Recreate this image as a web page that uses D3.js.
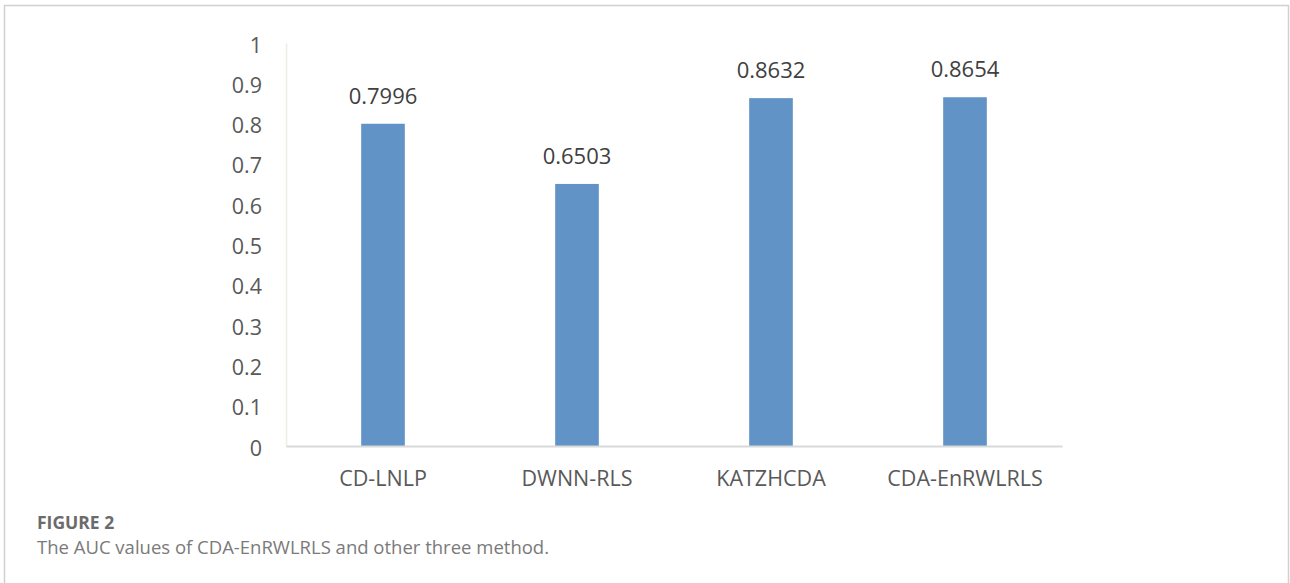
<!DOCTYPE html>
<html><head><meta charset="utf-8">
<script src="https://cdn.jsdelivr.net/npm/d3@7"></script>
<style>html,body{margin:0;padding:0;background:#fff;}svg{display:block;}</style>
</head><body>
<script>
const categories = ["CD-LNLP", "DWNN-RLS", "KATZHCDA", "CDA-EnRWLRLS"];
const aucValues = [0.7996, 0.6503, 0.8632, 0.8654];
const valueLabels = ["0.7996", "0.6503", "0.8632", "0.8654"];
const yTicks = [0, 0.1, 0.2, 0.3, 0.4, 0.5, 0.6, 0.7, 0.8, 0.9, 1];
const yTickLabels = ["0", "0.1", "0.2", "0.3", "0.4", "0.5", "0.6", "0.7", "0.8", "0.9", "1"];
const figureTitle = "FIGURE 2";
const figureCaption = "The AUC values of CDA-EnRWLRLS and other three method.";

(function () {
const W = 1290, H = 583;
const svg = d3.select("body").append("svg").attr("width", W).attr("height", H);

// frame
svg.append("path").attr("d", `M4.5,${H} V5.5 H1288.5 V${H}`)
  .attr("fill", "none").attr("stroke", "#d0d0d0").attr("stroke-width", 1.5);

const pLeft = 286, pRight = 1062, pTop = 43, pBottom = 446;
const x = d3.scaleBand().domain(categories).range([pLeft, pRight]).paddingInner(0.775).paddingOuter(0.3875);
const y = d3.scaleLinear().domain([0, 1]).range([pBottom, pTop]);

const font = "'Open Sans', 'DejaVu Sans', sans-serif";

// y axis
const yAxis = d3.axisLeft(y).tickValues(yTicks).tickFormat((d, i) => yTickLabels[i]).tickSize(0).tickPadding(24);
const gy = svg.append("g").attr("transform", `translate(${pLeft},0)`).call(yAxis);
gy.select(".domain").attr("stroke", "#efebe5").attr("stroke-width", 1.5);
gy.selectAll("text").attr("font-family", font).attr("font-size", 21.5).attr("fill", "#595959").attr("dy", "0.42em");

// bars
svg.append("g").selectAll("rect").data(categories).join("rect")
  .attr("x", d => x(d)).attr("width", x.bandwidth())
  .attr("y", (d, i) => y(aucValues[i])).attr("height", (d, i) => pBottom - y(aucValues[i]))
  .attr("fill", "#6193c7");

// x axis
const xAxis = d3.axisBottom(x).tickSize(0).tickPadding(25);
const gx = svg.append("g").attr("transform", `translate(0,${pBottom})`).call(xAxis);
gx.select(".domain").attr("stroke", "#d9d9d9").attr("stroke-width", 2);
gx.selectAll("text").attr("font-family", font).attr("font-size", 21.5).attr("fill", "#595959");

// value labels
svg.append("g").selectAll("text").data(categories).join("text")
  .attr("x", d => x(d) + x.bandwidth() / 2)
  .attr("y", (d, i) => y(aucValues[i]) - 20)
  .attr("text-anchor", "middle")
  .attr("font-family", font).attr("font-size", 22).attr("fill", "#404040")
  .text((d, i) => valueLabels[i]);

// caption
svg.append("text").attr("x", 37).attr("y", 529)
  .attr("font-family", font).attr("font-size", 17.5).attr("font-weight", "bold").attr("fill", "#6b6b6b")
  .text(figureTitle);
svg.append("text").attr("x", 37).attr("y", 554)
  .attr("font-family", font).attr("font-size", 18.5).attr("fill", "#7a7a7a")
  .text(figureCaption);
})();
</script>
</body></html>
